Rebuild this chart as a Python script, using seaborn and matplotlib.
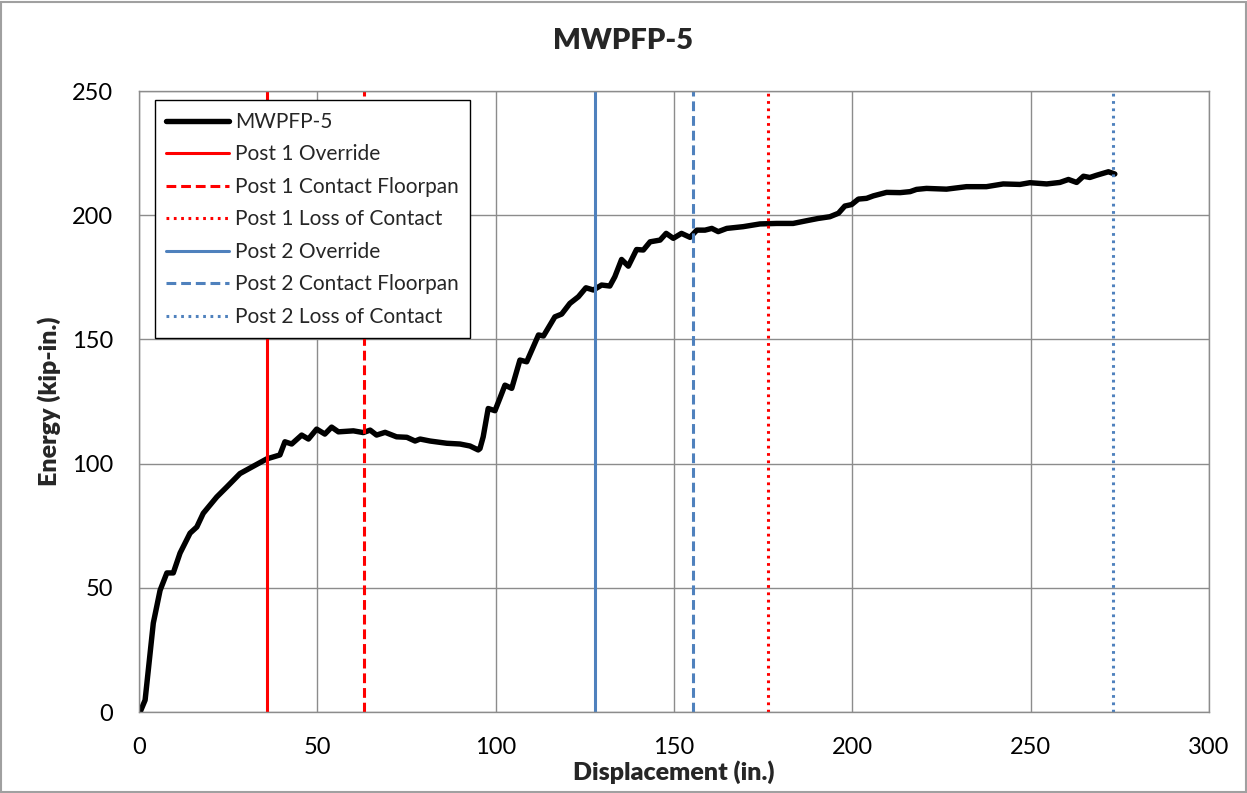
import matplotlib
matplotlib.use("Agg")
import matplotlib.pyplot as plt
import seaborn as sns
import pandas as pd

# Energy vs. displacement for test MWPFP-5
displacement = [0.3, 1.7, 4.0, 5.9, 7.8, 9.6, 11.5, 14.3, 16.2, 18.0, 21.8, 24.6, 28.3,
                32.1, 35.8, 39.5, 40.9, 42.8, 45.6, 47.5, 49.8, 52.1, 54.0, 55.9, 60.1,
                62.9, 64.8, 66.6, 69.0, 72.2, 75.1, 77.4, 78.8, 81.6, 86.3, 90.0, 92.8,
                95.1, 95.6, 96.5, 97.9, 99.8, 101.2, 102.6, 104.5, 106.8, 108.7, 112.0,
                113.4, 116.6, 118.5, 120.8, 123.2, 125.3, 127.4, 129.7, 132.0, 133.4,
                135.3, 137.2, 139.5, 141.4, 143.3, 146.1, 147.8, 149.8, 152.1, 154.5,
                156.4, 158.7, 160.6, 162.4, 164.8, 169.4, 174.1, 178.8, 183.4, 187.2,
                190.4, 193.7, 196.1, 197.9, 199.8, 201.7, 204.0, 205.9, 209.6, 213.4,
                216.2, 218.0, 220.8, 226.4, 232.0, 237.6, 242.3, 247.0, 249.8, 254.5,
                258.2, 260.6, 262.9, 264.8, 266.6, 268.5, 271.8, 273.6]
energy = [0.0, 4.8, 35.8, 49.0, 56.0, 56.0, 64.0, 72.0, 74.5, 80.0, 86.6, 90.6, 96.0,
          99.0, 101.9, 103.5, 108.8, 107.9, 111.5, 109.9, 113.9, 111.9, 114.7, 112.8, 113.2,
          112.5, 113.5, 111.5, 112.6, 110.8, 110.6, 109.1, 109.9, 109.1, 108.2, 107.9, 107.1,
          105.5, 106.1, 110.8, 122.2, 121.3, 126.4, 131.6, 130.3, 141.7, 141.0, 151.8,
          151.4, 159.1, 160.2, 164.5, 167.2, 170.8, 169.9, 171.9, 171.5, 175.2,
          182.2, 179.5, 186.2, 186.0, 189.3, 190.0, 192.7, 190.7, 192.7, 191.1,
          194.0, 194.0, 194.7, 193.4, 194.7, 195.4, 196.5, 196.7, 196.7, 197.8,
          198.7, 199.4, 200.8, 203.7, 204.3, 206.5, 206.8, 207.8, 209.2, 209.1,
          209.5, 210.4, 210.8, 210.5, 211.5, 211.5, 212.6, 212.4, 213.1, 212.6,
          213.2, 214.4, 213.2, 215.7, 215.2, 216.1, 217.5, 216.6]

# Event markers (displacement, in.)
event_labels = ["Post 1 Override", "Post 1 Contact Floorpan", "Post 1 Loss of Contact",
                "Post 2 Override", "Post 2 Contact Floorpan", "Post 2 Loss of Contact"]
event_positions = [35.9, 63.1, 176.3, 127.8, 155.3, 273.1]

x_ticks = [0, 50, 100, 150, 200, 250, 300]
y_ticks = [0, 50, 100, 150, 200, 250]

sns.set_style("white")
plt.rcParams["font.family"] = ["Lato", "DejaVu Sans"]

fig = plt.figure(figsize=(12.47, 7.93), dpi=100)
ax = fig.add_axes([0.1115, 0.1021, 0.858, 0.7831])

df = pd.DataFrame({"Displacement": displacement, "Energy": energy})
sns.lineplot(data=df, x="Displacement", y="Energy", ax=ax, color="black",
             linewidth=3.9, label="MWPFP-5", solid_joinstyle="round",
             solid_capstyle="round")

red = "#FF0000"
blue = "#4F81BD"
styles = [
    (red, "-"), (red, (0, (3.2, 1.6))), (red, (0, (0.9, 1.5))),
    (blue, "-"), (blue, (0, (3.2, 1.6))), (blue, (0, (0.9, 1.5))),
]
for lab, pos, (col, ls) in zip(event_labels, event_positions, styles):
    ax.axvline(pos, color=col, linestyle=ls, linewidth=2.2, label=lab)

ax.set_xlim(0, 300)
ax.set_ylim(0, 250)
ax.set_xticks(x_ticks)
ax.set_yticks(y_ticks)
ax.grid(True, color="#8C8C8C", linewidth=1.0)
ax.set_axisbelow(True)
for s in ax.spines.values():
    s.set_color("#8C8C8C")
    s.set_linewidth(1.0)
ax.tick_params(axis="both", labelsize=17, colors="black", width=1,
               color="#8C8C8C", direction="out")
ax.tick_params(axis="x", length=5, pad=13)
ax.tick_params(axis="y", length=6.5, pad=12)

ax.set_xlabel("Displacement (in.)", fontsize=18, fontweight="heavy", labelpad=1.5)
ax.set_ylabel("Energy (kip-in.)", fontsize=18, fontweight="heavy", labelpad=8)
fig.suptitle("MWPFP-5", x=0.5, y=0.948, va="center", fontsize=21, fontweight="heavy")

leg = ax.legend(loc="upper left", bbox_to_anchor=(0.0145, 0.985), fontsize=15,
                frameon=True, fancybox=False, framealpha=1, edgecolor="black",
                handlelength=3.0, handletextpad=0.3, labelspacing=0.6,
                borderpad=0.55, borderaxespad=0)
leg.get_frame().set_linewidth(1.0)

# Chart border
fig.patches.append(plt.Rectangle((0.001, 0.001), 0.998, 0.997, transform=fig.transFigure,
                                 fill=False, edgecolor="#A0A0A0", linewidth=1.5))

fig.savefig("out.png", dpi=100)
